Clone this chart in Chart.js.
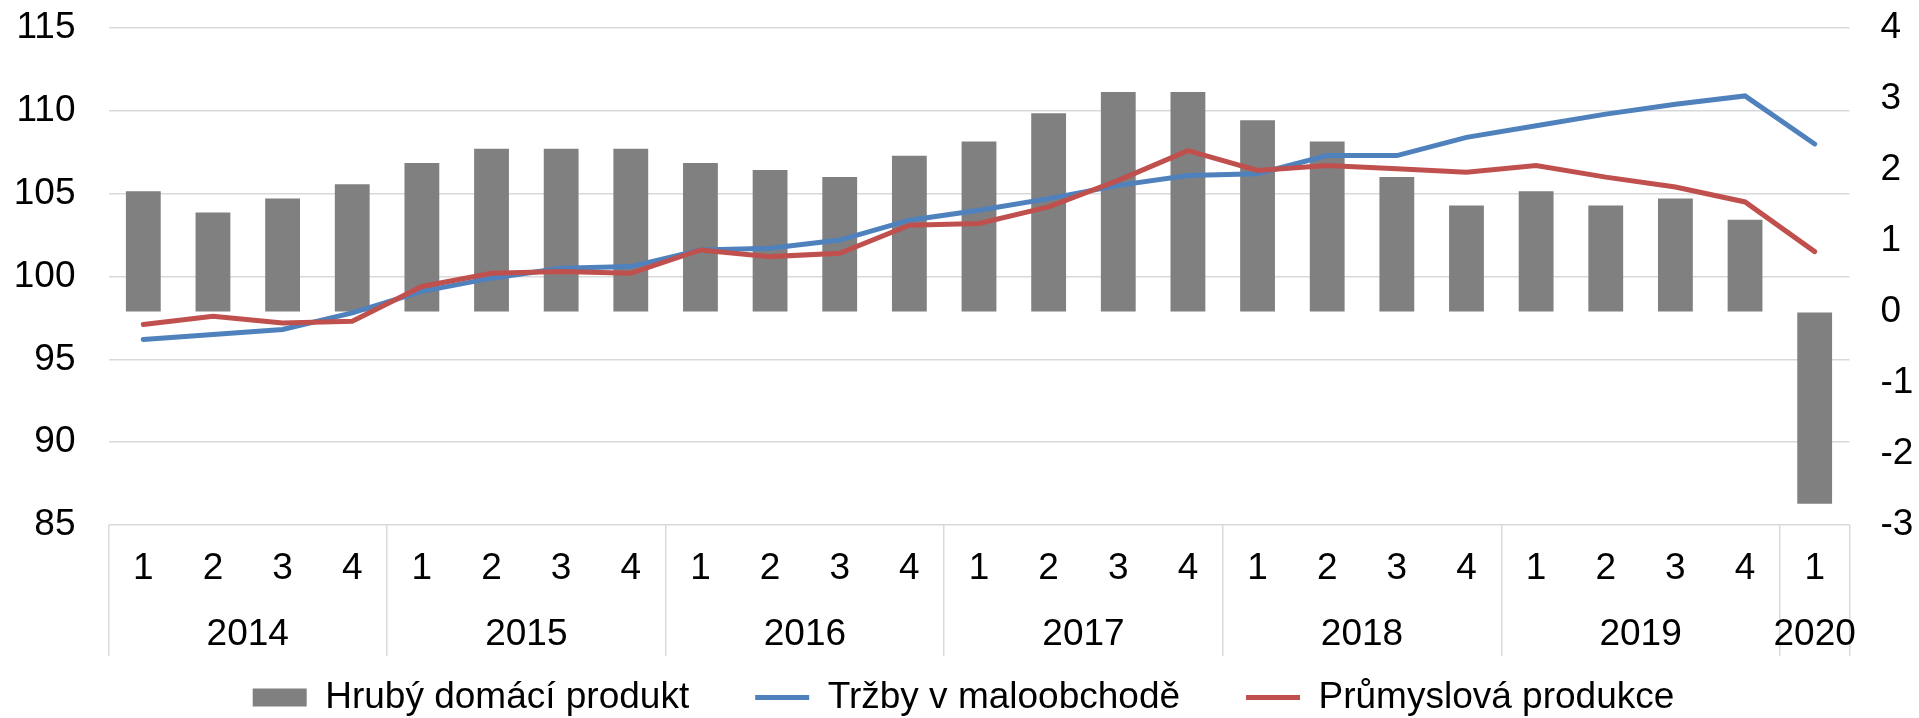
<!DOCTYPE html>
<html>
<head>
<meta charset="utf-8">
<script src="https://cdn.jsdelivr.net/npm/chart.js@4"></script>
<style>
  body { margin: 0; background: #fff; }
  #wrap { width: 1919px; height: 718px; }
</style>
</head>
<body>
<div id="wrap"><canvas id="chart"></canvas></div>
<script>
// quarters 2014 Q1 .. 2020 Q1
const quarters = ['1','2','3','4','1','2','3','4','1','2','3','4','1','2','3','4','1','2','3','4','1','2','3','4','1'];
const years = ['2014','2015','2016','2017','2018','2019','2020'];
const quartersPerYear = [4, 4, 4, 4, 4, 4, 1];

// right axis (bars)
const hdp = [1.7, 1.4, 1.6, 1.8, 2.1, 2.3, 2.3, 2.3, 2.1, 2.0, 1.9, 2.2, 2.4, 2.8, 3.1, 3.1, 2.7, 2.4, 1.9, 1.5, 1.7, 1.5, 1.6, 1.3, -2.7];
// left axis (lines)
const trzby = [96.2, 96.5, 96.8, 97.8, 99.1, 99.9, 100.5, 100.6, 101.6, 101.7, 102.2, 103.4, 104.0, 104.7, 105.5, 106.1, 106.2, 107.3, 107.3, 108.4, 109.1, 109.8, 110.4, 110.9, 108.0];
const prumysl = [97.1, 97.6, 97.2, 97.3, 99.4, 100.2, 100.3, 100.2, 101.6, 101.2, 101.4, 103.1, 103.2, 104.2, 105.8, 107.6, 106.4, 106.7, 106.5, 106.3, 106.7, 106.0, 105.4, 104.5, 101.5];

const leftTicks = [85, 90, 95, 100, 105, 110, 115];
const rightTicks = [-3, -2, -1, 0, 1, 2, 3, 4];

// two-row category labels: quarter numbers, year centered under its quarters, dividers between years
const xLabelTicks = [];
let start = 0;
years.forEach((year, j) => {
    const n = quartersPerYear[j];
    const mid = start + (n - 1) / 2;
    xLabelTicks.push({value: start - 0.5, label: '', divider: true});
    for (let i = start; i < start + n; i++) {
        xLabelTicks.push({value: i, label: i === mid ? [quarters[i], year] : [quarters[i]]});
    }
    if (!Number.isInteger(mid)) xLabelTicks.push({value: mid, label: ['', year]});
    start += n;
});
xLabelTicks.push({value: start - 0.5, label: '', divider: true});
xLabelTicks.sort((a, b) => a.value - b.value);

Chart.defaults.font.family = '"Liberation Sans", Arial, sans-serif';
Chart.defaults.color = '#000';

const ctx = document.getElementById('chart').getContext('2d');

new Chart(ctx, {
    data: {
        labels: quarters,
        datasets: [{
            type: 'bar',
            label: 'Hrubý domácí produkt',
            data: hdp,
            yAxisID: 'y1',
            backgroundColor: '#808080',
            barPercentage: 0.5,
            categoryPercentage: 1,
            order: 2
        }, {
            type: 'line',
            label: 'Tržby v maloobchodě',
            data: trzby,
            yAxisID: 'y',
            borderColor: '#4F81BD',
            backgroundColor: '#4F81BD',
            borderWidth: 5,
            borderCapStyle: 'round',
            pointRadius: 0,
            tension: 0,
            order: 1
        }, {
            type: 'line',
            label: 'Průmyslová produkce',
            data: prumysl,
            yAxisID: 'y',
            borderColor: '#C0504D',
            backgroundColor: '#C0504D',
            borderWidth: 5,
            borderCapStyle: 'round',
            pointRadius: 0,
            tension: 0,
            order: 0
        }]
    },
    options: {
        responsive: true,
        maintainAspectRatio: false,
        animation: false,
        layout: {
            padding: {top: 28, left: 13.5, right: 5.5, bottom: -8}
        },
        plugins: {
            tooltip: {enabled: false},
            legend: {
                position: 'bottom',
                labels: {
                    usePointStyle: true,
                    pointStyleWidth: 54,
                    boxHeight: 18,
                    padding: 66,
                    font: {size: 37},
                    color: '#000',
                    generateLabels: chart => Chart.defaults.plugins.legend.labels.generateLabels(chart)
                        .map(item => ({
                            ...item,
                            pointStyle: chart.data.datasets[item.datasetIndex].type === 'bar' ? 'rect' : 'line'
                        }))
                        .sort((a, b) => a.datasetIndex - b.datasetIndex)
                }
            }
        },
        scales: {
            x: {
                type: 'category',
                display: false,
                offset: true
            },
            xq: {
                type: 'linear',
                position: 'bottom',
                min: -0.5,
                max: quarters.length - 0.5,
                afterBuildTicks: scale => {
                    scale.ticks = xLabelTicks.map(t => ({value: t.value}));
                },
                afterFit: scale => {
                    scale.height = 88;
                },
                ticks: {
                    autoSkip: false,
                    maxRotation: 0,
                    minRotation: 0,
                    padding: -120.7,
                    font: {size: 37, lineHeight: 66 / 37},
                    color: '#000',
                    callback: (value, index) => xLabelTicks[index].label
                },
                grid: {
                    drawOnChartArea: false,
                    drawTicks: true,
                    tickLength: 131,
                    lineWidth: 1.5,
                    color: c => (xLabelTicks[c.index] && xLabelTicks[c.index].divider) ? '#D9D9D9' : 'rgba(0,0,0,0)'
                },
                border: {display: false}
            },
            y: {
                position: 'left',
                min: leftTicks[0],
                max: leftTicks[leftTicks.length - 1],
                afterFit: scale => {
                    scale.width = 95;
                    scale.paddingTop = 0;
                    scale.paddingBottom = 0;
                },
                ticks: {
                    stepSize: leftTicks[1] - leftTicks[0],
                    font: {size: 37},
                    color: '#000',
                    padding: 33
                },
                grid: {
                    color: '#D9D9D9',
                    lineWidth: 1.5,
                    drawTicks: false
                },
                border: {display: false}
            },
            y1: {
                position: 'right',
                min: rightTicks[0],
                max: rightTicks[rightTicks.length - 1],
                afterFit: scale => {
                    scale.width = 64;
                    scale.paddingTop = 0;
                    scale.paddingBottom = 0;
                },
                ticks: {
                    stepSize: rightTicks[1] - rightTicks[0],
                    font: {size: 37},
                    color: '#000',
                    padding: 31
                },
                grid: {
                    drawOnChartArea: false,
                    drawTicks: false
                },
                border: {display: false}
            }
        }
    },
    plugins: [{
        // let the year row of the category labels draw below the shortened axis box
        id: 'yearRowRoom',
        afterLayout: chart => {
            chart.scales.xq.bottom = chart.height;
        }
    }]
});
</script>
</body>
</html>
